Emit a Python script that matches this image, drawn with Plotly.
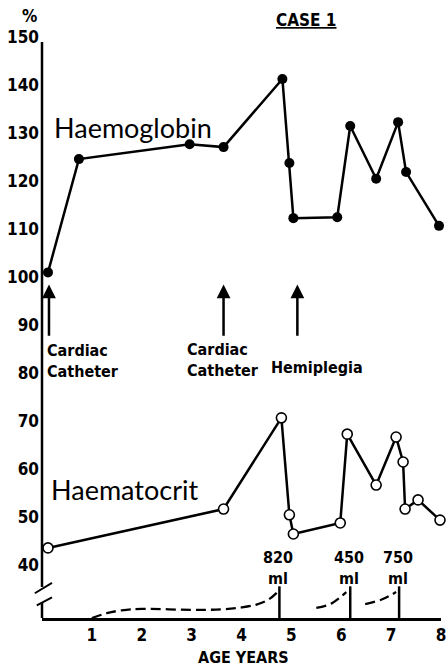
import plotly.graph_objects as go

# Haemoglobin (%)
hb_age = [0.12, 0.74, 2.96, 3.64, 4.82, 4.96, 5.04, 5.92, 6.18, 6.70, 7.14, 7.30, 7.96]
hb_val = [102, 125.6, 128.7, 128.1, 142.3, 124.8, 113.3, 113.5, 132.5, 121.5, 133.3, 122.9, 111.7]

# Haematocrit (%)
hct_age = [0.12, 3.64, 4.80, 4.96, 5.04, 5.98, 6.12, 6.70, 7.10, 7.24, 7.28, 7.54, 7.98]
hct_val = [44.6, 52.7, 71.7, 51.5, 47.5, 49.8, 68.3, 57.7, 67.7, 62.5, 52.7, 54.6, 50.4]

# Transfusion build-up curves (drawn in the space below the axis break)
tr1_age = [1.0, 1.3, 1.6, 2.0, 3.0, 3.6, 4.0, 4.3, 4.55, 4.76]
tr1_lvl = [30.0, 31.0, 31.6, 31.9, 31.7, 31.8, 32.2, 32.8, 33.9, 35.8]
tr2_age = [5.5, 5.8, 6.1]
tr2_lvl = [32.1, 33.0, 35.4]
tr3_age = [6.48, 6.8, 7.1]
tr3_lvl = [32.9, 33.8, 35.4]
tr_age = [4.76, 6.18, 7.16]
tr_vol = ["820", "450", "750"]

# events
ev_age = [0.14, 3.64, 5.12]
ev_text = ["Cardiac<br>Catheter", "Cardiac<br>Catheter", "Hemiplegia"]
ev_text_x = [0.06, 2.86, 4.56]
ev_text_y = [83.5, 83.7, 82.1]

y_ticks = [40, 50, 60, 70, 80, 90, 100, 110, 120, 130, 140, 150]
x_ticks = [1, 2, 3, 4, 5, 6, 7, 8]

small = dict(family="DejaVu Sans Condensed, DejaVu Sans", size=16, color="black", weight="bold")
tickf = dict(family="DejaVu Sans Condensed, DejaVu Sans", size=17, color="black", weight="bold")
big = dict(family="Lato, DejaVu Sans", size=27, color="black")

fig = go.Figure()
fig.add_trace(go.Scatter(x=hb_age, y=hb_val, mode="lines+markers",
                         line=dict(color="black", width=2.5),
                         marker=dict(size=10, color="black"), cliponaxis=False))
fig.add_trace(go.Scatter(x=hct_age, y=hct_val, mode="lines+markers",
                         line=dict(color="black", width=2.5),
                         marker=dict(size=10, color="white", line=dict(color="black", width=1.6)),
                         cliponaxis=False))
for xs, ys in [(tr1_age, tr1_lvl), (tr2_age, tr2_lvl), (tr3_age, tr3_lvl)]:
    fig.add_trace(go.Scatter(x=xs, y=ys, mode="lines",
                             line=dict(color="black", width=2.3, dash="10px,5px", shape="spline")))
for xa in tr_age:
    fig.add_trace(go.Scatter(x=[xa, xa], y=[30, 36.6], mode="lines", line=dict(color="black", width=2.5)))

ann = []
for xa, tx, ty, t in zip(ev_age, ev_text_x, ev_text_y, ev_text):
    ann.append(dict(x=xa, y=99.5, ax=xa, ay=88.5, axref="x", ayref="y", xref="x", yref="y",
                    text="", showarrow=True, arrowhead=2, arrowsize=1.1, arrowwidth=2.5, arrowcolor="black"))
    ann.append(dict(x=tx, y=ty, xref="x", yref="y", text=t, showarrow=False, xanchor="left",
                    yanchor="middle", align="left", font=small))
for xa, v in zip(tr_age, tr_vol):
    ann.append(dict(x=xa - 0.03, y=40.4, xref="x", yref="y", text=v + "<br>ml", showarrow=False,
                    font=small, yanchor="middle"))
ann.append(dict(x=0.2, y=132.1, xref="x", yref="y", text="Haemoglobin", showarrow=False,
                xanchor="left", yanchor="middle", font=big))
ann.append(dict(x=0.14, y=56.7, xref="x", yref="y", text="Haematocrit", showarrow=False,
                xanchor="left", yanchor="middle", font=big))
ann.append(dict(x=0.662, y=1.038, xref="paper", yref="paper", text="<u>CASE 1</u>", showarrow=False,
                yanchor="middle", font=dict(small, size=17)))
ann.append(dict(x=-0.055, y=1.045, xref="paper", yref="paper", text="%", showarrow=False,
                yanchor="middle", font=dict(small, size=17)))
ann.append(dict(x=0.506, y=-0.069, xref="paper", yref="paper", text="AGE YEARS", showarrow=False,
                yanchor="middle", font=small))

shapes = [
    dict(type="line", xref="paper", yref="paper", x0=0, x1=0, y0=1, y1=0.054, line=dict(color="black", width=2.5)),
    dict(type="line", xref="paper", yref="paper", x0=0, x1=0, y0=0.026, y1=0, line=dict(color="black", width=2.5)),
    dict(type="line", xref="paper", yref="paper", x0=-0.018, x1=0.025, y0=0.043, y1=0.061, line=dict(color="black", width=2)),
    dict(type="line", xref="paper", yref="paper", x0=-0.013, x1=0.025, y0=0.022, y1=0.036, line=dict(color="black", width=2)),
]

fig.update_layout(
    width=446, height=667, margin=dict(l=42, r=5, t=42, b=49, autoexpand=False),
    paper_bgcolor="white", plot_bgcolor="white", showlegend=False,
    annotations=ann, shapes=shapes,
    xaxis=dict(range=[0, 8], tickvals=x_ticks, showgrid=False, zeroline=False, showline=True,
               linecolor="black", linewidth=2.5, ticks="", tickfont=tickf, automargin=False,
               ticklabeloverflow="allow"),
    yaxis=dict(range=[30, 150], tickvals=y_ticks, showgrid=False, zeroline=False, showline=False,
               ticks="", tickfont=tickf, ticklabelshift=-5, ticklabelstandoff=2, automargin=False,
               ticklabeloverflow="allow"),
)
fig.write_html("out.html", config={"displayModeBar": False},
               post_script="document.body.style.margin='0';document.body.style.overflow='hidden';")
